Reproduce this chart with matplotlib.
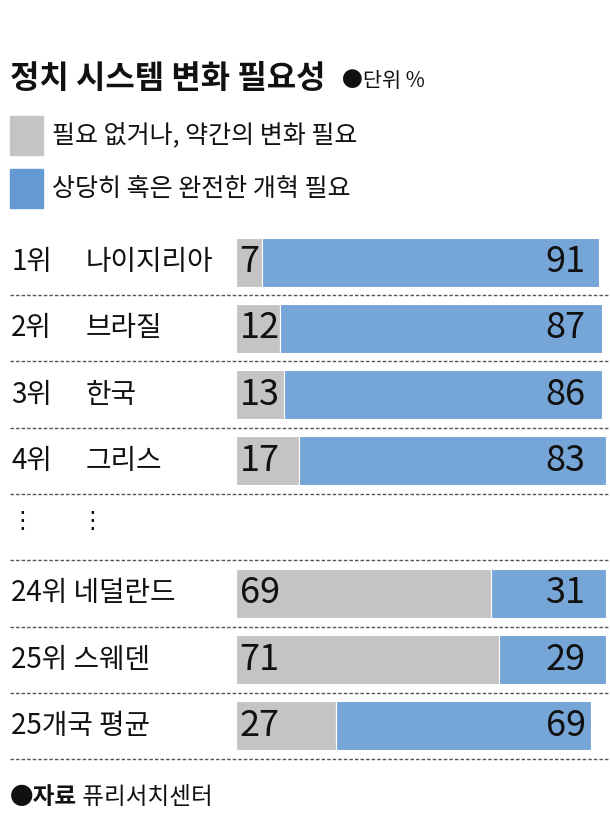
import matplotlib
matplotlib.use("Agg")
import matplotlib.pyplot as plt

plt.rcParams['font.family'] = ['Noto Sans CJK KR', 'DejaVu Sans']

# ---- data ----
ranks = ['1위', '2위', '3위', '4위', None, '24위', '25위', '25개국 평균']
countries = ['나이지리아', '브라질', '한국', '그리스', None, '네덜란드', '스웨덴', '']
no_need = [7, 12, 13, 17, None, 69, 71, 27]
need = [91, 87, 86, 83, None, 31, 29, 69]

title = '정치 시스템 변화 필요성'
unit = '●단위 %'
legend_labels = ['필요 없거나, 약간의 변화 필요', '상당히 혹은 완전한 개혁 필요']
source_bold = '●자료'
source_text = ' 퓨리서치센터'

GRAY = '#c3c4c3'
BLUE = '#76a5d8'
GRAY_LEG = '#c4c4c4'
BLUE_LEG = '#6499d1'
TXT = '#111111'

W, H = 610, 830
fig = plt.figure(figsize=(W / 100, H / 100), dpi=100)

# overlay axes in pixel coords
ax0 = fig.add_axes([0, 0, 1, 1])
ax0.set_xlim(0, W)
ax0.set_ylim(H, 0)
ax0.axis('off')

# bar axes: x 0..100 -> px 236..606; rows -0.5..7.5 -> px 229..759
x0_px, x1_px = 236, 606
top_px, bot_px = 229, 759
ax = fig.add_axes([x0_px / W, (H - bot_px) / H, (x1_px - x0_px) / W, (bot_px - top_px) / H])
ax.set_xlim(0, 100)
ax.set_ylim(7.5, -0.5)
ax.axis('off')
ax.patch.set_alpha(0)

bh = 0.74
for i in range(len(ranks)):
    if no_need[i] is None:
        continue
    ax.barh(i, no_need[i], height=bh, color=GRAY, edgecolor='white', linewidth=0.8)
    ax.barh(i, need[i], left=no_need[i], height=bh, color=BLUE, edgecolor='white', linewidth=0.8)
    ax.text(1.0, i, str(no_need[i]), ha='left', va='center', fontsize=26, color=TXT)
    ax.text(94.5, i, str(need[i]), ha='right', va='center', fontsize=26, color=TXT)

# row labels and separators
def row_y(i):
    return top_px + (i + 0.5) * (bot_px - top_px) / 8

for i in range(len(ranks)):
    y = row_y(i)
    if ranks[i] is None:
        ax0.text(22, y - 6, '⋮', ha='center', va='center', fontsize=17, color=TXT)
        ax0.text(92, y - 6, '⋮', ha='center', va='center', fontsize=17, color=TXT)
    elif len(ranks[i]) <= 2:
        ax0.text(11, y, ranks[i], ha='left', va='center', fontsize=20, color=TXT)
        ax0.text(86, y, countries[i], ha='left', va='center', fontsize=20, color=TXT)
    else:
        lab = ranks[i] + (' ' + countries[i] if countries[i] else '')
        ax0.text(11, y, lab, ha='left', va='center', fontsize=20, color=TXT)
    ysep = row_y(i) + (bot_px - top_px) / 16
    ax0.plot([10, 610], [ysep, ysep], color='#555555', lw=1.0, ls=(0, (2.5, 1.5)))

# title
ax0.text(10, 79, title, ha='left', va='center', fontsize=23, fontweight='bold', color=TXT)
ax0.text(342, 81, unit, ha='left', va='center', fontsize=15, color=TXT)

# legend
from matplotlib.patches import Rectangle
ax0.add_patch(Rectangle((10, 116), 33, 39, color=GRAY_LEG))
ax0.add_patch(Rectangle((10, 169), 33, 39, color=BLUE_LEG))
ax0.text(52, 136, legend_labels[0], ha='left', va='center', fontsize=18, color=TXT)
ax0.text(52, 189, legend_labels[1], ha='left', va='center', fontsize=18, color=TXT)

# source
t = ax0.text(10, 797, source_bold, ha='left', va='center', fontsize=17, fontweight='bold', color=TXT)
ax0.annotate(source_text, xycoords=t, xy=(1, 0.5), va='center', ha='left', fontsize=17, color=TXT)

fig.savefig('out.png', dpi=100)
